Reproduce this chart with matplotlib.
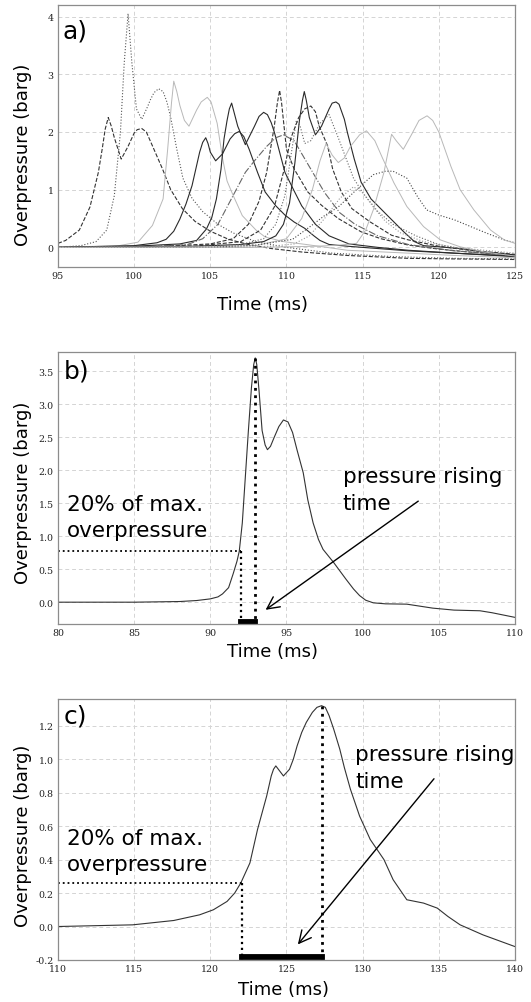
import matplotlib

matplotlib.use("Agg")
import matplotlib.pyplot as plt
from matplotlib.ticker import FormatStrFormatter

# ---------------- panel a: overpressure traces of several cases ----------------
# dark dashed, double peak near 98-100 ms
dash1_t = [95, 95.5, 96.4, 97.1, 97.65, 97.9, 98.1, 98.3, 98.5, 98.7, 99.15, 99.6, 100.0, 100.2,
           100.5, 100.8, 101.2, 101.86, 102.4, 103.17, 104.0, 105.0, 106.2, 107.5, 109, 111,
           114, 118, 121, 125]
dash1_p = [0.07, 0.12, 0.3, 0.7, 1.3, 1.7, 2.05, 2.25, 2.1, 1.9, 1.53, 1.75, 1.98, 2.04,
           2.06, 2.0, 1.76, 1.36, 1.0, 0.67, 0.45, 0.28, 0.14, 0.05, -0.02, -0.08,
           -0.14, -0.19, -0.2, -0.21]
# dotted, highest spike (~4 barg)
dot1_t = [95, 96.5, 97.5, 98.2, 98.7, 99.1, 99.35, 99.6, 99.85, 100.15, 100.5, 100.9, 101.05, 101.3,
          101.6, 101.9, 102.15, 102.4, 102.8, 103.2, 103.8, 104.5, 105.5, 106.5, 108, 110, 113,
          117, 121, 125]
dot1_p = [0.0, 0.03, 0.1, 0.3, 0.9, 2.0, 3.2, 4.05, 3.2, 2.4, 2.22, 2.45, 2.55, 2.68,
          2.75, 2.7, 2.52, 2.25, 1.7, 1.2, 0.85, 0.62, 0.4, 0.25, 0.1, 0.0, -0.1,
          -0.16, -0.19, -0.2]
# light grey solid, peaks 102.6 / 104.8 ms
light1_t = [95, 99, 100.25, 101.2, 101.9, 102.2, 102.45, 102.6, 102.8, 103.0, 103.3, 103.6, 104.1,
            104.4, 104.8, 105.05, 105.45, 105.8, 106.1, 106.5, 107.1, 108.0, 108.6, 109.8, 111.3,
            114, 118, 121, 125]
light1_p = [0.0, 0.03, 0.09, 0.38, 0.84, 1.7, 2.5, 2.88, 2.7, 2.46, 2.2, 2.1, 2.38,
            2.52, 2.6, 2.52, 2.15, 1.55, 1.15, 0.9, 0.55, 0.3, 0.18, 0.1, 0.05,
            -0.05, -0.1, -0.14, -0.18]
# dark solid, peaks 104.7 / 106.9 ms
solid1_t = [95, 100, 101.5, 102.1, 102.6, 103.0, 103.4, 103.8, 104.3, 104.5, 104.7, 104.85, 105.0,
            105.35, 105.8, 106.3, 106.6, 106.9, 107.2, 107.55, 108.1, 108.6, 109.3, 109.9, 110.5,
            111.2, 111.8, 112.2, 112.8, 114, 116, 118, 121, 125]
solid1_p = [0.0, 0.03, 0.08, 0.14, 0.28, 0.49, 0.75, 1.07, 1.65, 1.82, 1.9, 1.8, 1.65,
            1.5, 1.62, 1.88, 1.97, 2.01, 1.92, 1.7, 1.3, 0.96, 0.72, 0.56, 0.44,
            0.33, 0.2, 0.12, 0.05, 0.02, -0.02, -0.06, -0.1, -0.15]
# dark solid, peaks 106.4 / 108.5 ms
solid2_t = [95, 100, 103, 104.1, 104.75, 105.1, 105.4, 105.7, 105.9, 106.1, 106.25, 106.4, 106.55,
            106.8, 107.3, 107.9, 108.2, 108.5, 108.75, 109.0, 109.2, 109.45, 109.9, 110.5, 111.0,
            111.9, 112.8, 114.1, 116, 118, 121, 125]
solid2_p = [0.0, 0.02, 0.06, 0.12, 0.32, 0.52, 0.84, 1.35, 1.88, 2.2, 2.4, 2.5, 2.35,
            2.1, 1.78, 2.1, 2.27, 2.34, 2.3, 2.16, 2.0, 1.75, 1.3, 0.98, 0.72,
            0.4, 0.2, 0.06, 0.0, -0.05, -0.1, -0.16]
# dark dashed, sharp peak 109.55 ms
dash2_t = [95, 102, 105, 106.5, 107.5, 108.2, 108.7, 109.2, 109.4, 109.55, 109.68, 109.8, 110.0,
           110.5, 111.4, 112.3, 113.4, 114.9, 116.2, 118, 120, 122, 125]
dash2_p = [0.0, 0.02, 0.06, 0.15, 0.4, 0.8, 1.3, 2.1, 2.5, 2.72, 2.5, 2.2, 1.7,
           1.36, 0.96, 0.73, 0.5, 0.27, 0.15, 0.04, -0.03, -0.08, -0.14]
# grey dash-dot, broad peak 109.8 ms
dashdot1_t = [95, 101, 103.5, 104.5, 105.5, 106.6, 107.3, 107.9, 108.7, 109.3, 109.8, 110.5, 111.5,
              112.5, 113.5, 114.5, 116, 118, 121, 125]
dashdot1_p = [0.0, 0.01, 0.05, 0.15, 0.4, 0.95, 1.3, 1.5, 1.75, 1.9, 1.95, 1.85, 1.4,
              0.95, 0.6, 0.4, 0.2, 0.05, -0.06, -0.14]
# dark solid, peaks 111.2 / 113.25 ms
solid3_t = [95, 104, 107, 108.5, 109.3, 109.8, 110.2, 110.55, 110.85, 111.05, 111.17, 111.3, 111.5,
            111.9, 112.3, 112.8, 113.0, 113.25, 113.45, 113.8, 114.0, 114.45, 114.9, 115.55, 116.6,
            117.7, 118.4, 119, 120, 121.4, 123, 125]
solid3_p = [0.0, 0.02, 0.05, 0.1, 0.2, 0.4, 0.77, 1.46, 2.2, 2.55, 2.7, 2.55, 2.25,
            1.95, 2.1, 2.4, 2.5, 2.52, 2.48, 2.22, 1.99, 1.53, 1.13, 0.84, 0.56,
            0.27, 0.1, 0.03, 0.01, -0.02, -0.08, -0.13]
# dark dashed, peak 111.6 ms
dash3_t = [95, 104, 107, 108.3, 109.2, 109.8, 110.3, 110.8, 111.2, 111.6, 111.9, 112.15, 112.7,
           113.03, 113.6, 114.3, 115.5, 116.9, 118, 120, 122, 125]
dash3_p = [0.0, 0.02, 0.1, 0.3, 0.7, 1.3, 1.9, 2.25, 2.4, 2.45, 2.35, 2.1, 1.76,
           1.36, 0.96, 0.67, 0.44, 0.21, 0.13, 0.02, -0.05, -0.12]
# grey dotted, peaks 110.65 / 112.8 ms
dot2_t = [95, 104, 107, 108.5, 109.3, 109.9, 110.3, 110.65, 110.9, 111.2, 111.6, 112.2, 112.8,
          113.4, 113.9, 114.4, 115, 116, 117, 118.5, 120, 122, 125]
dot2_p = [0.0, 0.01, 0.05, 0.15, 0.4, 0.9, 1.6, 2.2, 2.1, 1.8, 1.85, 2.15, 2.3,
          1.9, 1.55, 1.2, 0.95, 0.62, 0.4, 0.2, 0.05, -0.05, -0.15]
# light grey solid, peaks 112.6 / 115.25 ms
light2_t = [95, 105, 108, 110, 111, 111.7, 112.2, 112.6, 113.0, 113.4, 113.8, 114.2, 114.8, 115.25,
            115.8, 116.3, 117.05, 117.9, 119.0, 120.1, 121.4, 123, 125]
light2_p = [0.0, 0.01, 0.03, 0.15, 0.5, 1.0, 1.5, 1.8, 1.6, 1.47, 1.55, 1.75, 1.95, 2.02,
            1.85, 1.55, 1.12, 0.71, 0.36, 0.13, 0.01, -0.08, -0.15]
# dark dotted, broad peak 117 ms
dot3_t = [95, 105, 108, 110.4, 111.5, 112.5, 113.4, 114.6, 115.7, 116.5, 117.0, 117.9, 118.6,
          119.2, 120.0, 121.0, 122.1, 123.2, 124.3, 125]
dot3_p = [0.0, 0.0, 0.04, 0.14, 0.35, 0.55, 0.7, 1.0, 1.26, 1.32, 1.32, 1.2, 0.88,
          0.65, 0.56, 0.48, 0.36, 0.24, 0.13, 0.08]
# light grey solid, peaks 116.9 / 119.2 ms
light3_t = [95, 108, 112, 113.5, 114.6, 115.2, 115.7, 116.4, 116.9, 117.2, 117.67, 118.2, 118.7,
            119.23, 119.6, 120.0, 120.8, 121.4, 122.3, 123.4, 124.3, 125]
light3_p = [0.0, 0.0, 0.02, 0.04, 0.07, 0.3, 0.65, 1.3, 1.96, 1.85, 1.7, 1.95, 2.2,
            2.28, 2.2, 2.0, 1.4, 1.0, 0.65, 0.3, 0.13, 0.07]
# light grey dotted, small peak 114.4 ms
dot4_t = [95, 106, 109, 110.5, 111.5, 112.5, 113.5, 114.4, 115, 115.7, 116.5, 117.5, 119, 121, 125]
dot4_p = [0.0, 0.0, 0.02, 0.06, 0.2, 0.5, 0.85, 1.05, 0.95, 0.7, 0.45, 0.25, 0.1, 0.0, -0.1]

# ---------------- panel b: single trace with rise time ----------------
b_t = [80, 85, 88, 89.1, 90.0, 90.5, 90.8, 91.2, 91.5, 91.75, 91.9, 92.1, 92.3, 92.5, 92.7,
       92.85, 92.95, 93.05, 93.2, 93.4, 93.6, 93.75, 93.95, 94.2, 94.5, 94.8, 95.1, 95.4, 95.7,
       96.1, 96.4, 96.75, 97.1, 97.4, 98.1, 98.9, 99.4, 99.8, 100.2, 100.7, 101.5, 102.9,
       104.6, 106, 107.7, 108.5, 110]
b_p = [0.0, 0.0, 0.01, 0.025, 0.05, 0.08, 0.125, 0.22, 0.43, 0.62, 0.77, 1.2, 1.9, 2.6, 3.25,
       3.6, 3.7, 3.6, 3.2, 2.6, 2.38, 2.31, 2.36, 2.5, 2.66, 2.76, 2.73, 2.57, 2.3,
       1.96, 1.55, 1.2, 0.95, 0.8, 0.6, 0.35, 0.2, 0.1, 0.03, -0.01, -0.025, -0.03,
       -0.09, -0.12, -0.13, -0.16, -0.23]
b_thresh = 0.77       # 20 % of max. overpressure
b_t20 = 92.0          # time when 20 % is reached
b_tmax = 92.95        # time of max. overpressure
b_pmax = 3.7

# ---------------- panel c ----------------
c_t = [110, 114.9, 117.6, 119.3, 120.2, 121.1, 121.6, 122.0, 122.6, 123.1, 123.4, 123.7, 124.0,
       124.15, 124.3, 124.55, 124.8, 125.2, 125.45, 125.7, 126.0, 126.3, 126.7, 127.0, 127.3,
       127.55, 127.8, 128.1, 128.5, 128.8, 129.2, 129.8, 130.5, 131.4, 132.0, 132.9, 134.0,
       134.9, 135.6, 136.4, 137.9, 140]
c_p = [0.0, 0.01, 0.036, 0.07, 0.1, 0.15, 0.2, 0.26, 0.38, 0.58, 0.68, 0.78, 0.9,
       0.94, 0.96, 0.93, 0.9, 0.94, 1.0, 1.08, 1.16, 1.22, 1.28, 1.31, 1.32,
       1.31, 1.26, 1.18, 1.06, 0.95, 0.82, 0.66, 0.52, 0.4, 0.28, 0.16, 0.14,
       0.11, 0.06, 0.01, -0.05, -0.12]
c_thresh = 0.26
c_t20 = 122.05
c_tmax = 127.3
c_pmax = 1.32

DARK = "#2a2a2a"
LINE = "#333333"
LIGHT = "#b8b8b8"


def style_axes(ax, xlim, ylim, xticks, yticks, ylabel_y, xlabel_x, xlabel_y):
    ax.set_xlim(*xlim)
    ax.set_ylim(*ylim)
    ax.set_xticks(xticks)
    ax.set_yticks(yticks)
    ax.grid(True, ls=(0, (4, 3)), color="#d4d4d4", lw=0.7)
    ax.set_axisbelow(True)
    for s in ax.spines.values():
        s.set_color("#8c8c8c")
        s.set_linewidth(0.9)
    ax.tick_params(length=0, pad=3, labelsize=6.8, labelcolor="#222222")
    for lab in ax.get_xticklabels() + ax.get_yticklabels():
        lab.set_family("DejaVu Serif")
    ax.set_ylabel("Overpressure (barg)", fontsize=13)
    ax.set_xlabel("Time (ms)", fontsize=13)
    ax.yaxis.set_label_coords(-0.057, ylabel_y)
    ax.xaxis.set_label_coords(xlabel_x, xlabel_y)


fig = plt.figure(figsize=(5.31, 10.03), dpi=100)
ax_a = fig.add_axes([0.1092, 0.7328, 0.8606, 0.2612])
ax_b = fig.add_axes([0.1092, 0.3769, 0.8606, 0.2712])
ax_c = fig.add_axes([0.1092, 0.0419, 0.8606, 0.2602])

# panel a
lw = 0.8
ax_a.plot(dash1_t, dash1_p, ls="--", color=LINE, lw=lw)
ax_a.plot(dot1_t, dot1_p, ls=":", color="#555555", lw=lw)
ax_a.plot(light1_t, light1_p, ls="-", color=LIGHT, lw=0.7)
ax_a.plot(solid1_t, solid1_p, ls="-", color=DARK, lw=lw)
ax_a.plot(solid2_t, solid2_p, ls="-", color=DARK, lw=lw)
ax_a.plot(dash2_t, dash2_p, ls="--", color=LINE, lw=lw)
ax_a.plot(dashdot1_t, dashdot1_p, ls="-.", color="#666666", lw=lw)
ax_a.plot(solid3_t, solid3_p, ls="-", color=DARK, lw=lw)
ax_a.plot(dash3_t, dash3_p, ls="--", color=LINE, lw=lw)
ax_a.plot(dot2_t, dot2_p, ls=":", color="#666666", lw=lw)
ax_a.plot(light2_t, light2_p, ls="-", color=LIGHT, lw=0.7)
ax_a.plot(dot3_t, dot3_p, ls=":", color="#444444", lw=lw)
ax_a.plot(light3_t, light3_p, ls="-", color=LIGHT, lw=0.7)
ax_a.plot(dot4_t, dot4_p, ls=":", color="#999999", lw=lw)
style_axes(ax_a, (95, 125), (-0.34, 4.2), [95, 100, 105, 110, 115, 120, 125],
           [0, 1, 2, 3, 4], 0.431, 0.4475, -0.107)
ax_a.text(0.01, 0.947, "a)", transform=ax_a.transAxes, fontsize=18, ha="left", va="top")


def rise_panel(ax, t, p, thresh, t20, tmax, pmax, ylim, bar_y, txt1, txt2, arrow_tail, arrow_head):
    ax.plot(t, p, color="#333333", lw=0.8)
    ax.plot([ax.get_xlim()[0], t20], [thresh, thresh], ls=":", color="black", lw=1.3)
    ax.plot([t20, t20], [thresh, ylim[0]], ls=":", color="black", lw=1.6)
    ax.plot([tmax, tmax], [pmax, ylim[0]], ls=":", color="black", lw=2.0)
    ax.plot([t20, tmax], [bar_y, bar_y], color="black", lw=4.2, solid_capstyle="projecting")
    ax.text(txt1[0], txt1[1], "20% of max.\noverpressure", fontsize=15.5, ha="left", va="top",
            linespacing=1.4)
    ax.text(txt2[0], txt2[1], "pressure rising\ntime", fontsize=15.5, ha="left", va="top",
            linespacing=1.4)
    ax.annotate("", xy=arrow_head, xytext=arrow_tail,
                arrowprops=dict(arrowstyle="->", color="black", lw=1.0, mutation_scale=22))


# panel b
ax_b.set_xlim(80, 110)
rise_panel(ax_b, b_t, b_p, b_thresh, b_t20, b_tmax, b_pmax, (-0.33, 3.79), -0.295,
           (80.6, 1.64), (98.7, 2.06), (103.8, 1.555), (93.48, -0.14))
style_axes(ax_b, (80, 110), (-0.33, 3.79), [80, 85, 90, 95, 100, 105, 110],
           [0.0, 0.5, 1.0, 1.5, 2.0, 2.5, 3.0, 3.5], 0.487, 0.47, -0.066)
ax_b.yaxis.set_major_formatter(FormatStrFormatter("%.1f"))
ax_b.text(0.012, 0.975, "b)", transform=ax_b.transAxes, fontsize=18, ha="left", va="top")

# panel c
ax_c.set_xlim(110, 140)
rise_panel(ax_c, c_t, c_p, c_thresh, c_t20, c_tmax, c_pmax, (-0.2, 1.36), -0.184,
           (110.6, 0.59), (129.5, 1.09), (134.8, 0.896), (125.63, -0.12))
style_axes(ax_c, (110, 140), (-0.2, 1.36), [110, 115, 120, 125, 130, 135, 140],
           [-0.2, 0.0, 0.2, 0.4, 0.6, 0.8, 1.0, 1.2], 0.48, 0.4945, -0.0785)
ax_c.yaxis.set_major_formatter(FormatStrFormatter("%.1f"))
ax_c.text(0.012, 0.981, "c)", transform=ax_c.transAxes, fontsize=18, ha="left", va="top")

fig.savefig("out.png", dpi=100)
